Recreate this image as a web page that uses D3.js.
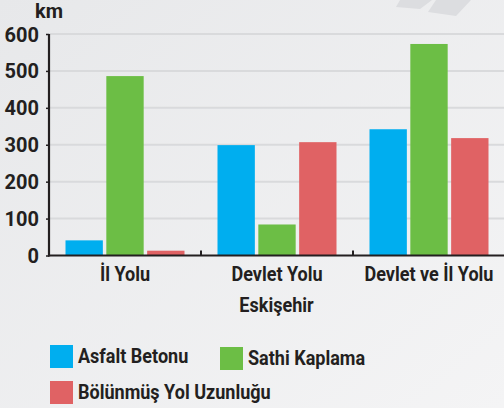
<!DOCTYPE html>
<html>
<head>
<meta charset="utf-8">
<script src="https://cdn.jsdelivr.net/npm/d3@7"></script>
<style>
  html, body { margin: 0; padding: 0; }
  body { width: 504px; height: 408px; overflow: hidden; }
  svg text { font-family: "Roboto", "Noto Sans", sans-serif; fill: #231f20; }
</style>
</head>
<body>
<svg id="chart" width="504" height="408"></svg>
<script>
// Road lengths in Eskişehir (km) by road type and surface
const categories = ["İl Yolu", "Devlet Yolu", "Devlet ve İl Yolu"];
const seriesNames = ["Asfalt Betonu", "Sathi Kaplama", "Bölünmüş Yol Uzunluğu"];
const asfaltBetonu = [41, 299, 342];
const sathiKaplama = [486, 84, 573];
const bolunmusYol = [13, 307, 318];
const yTicks = [0, 100, 200, 300, 400, 500, 600];
const colors = ["#00aeef", "#6cbe45", "#e06264"];

const series = [asfaltBetonu, sathiKaplama, bolunmusYol];

// narrow lettering for the labels
const condense = "scale(0.88,1)";

const svg = d3.select("#chart");

// background
const defs = svg.append("defs");
const grad = defs.append("linearGradient").attr("id", "bg")
  .attr("x1", "0").attr("y1", "0").attr("x2", "1").attr("y2", "1");
grad.append("stop").attr("offset", "0").attr("stop-color", "#e7e8ea");
grad.append("stop").attr("offset", "1").attr("stop-color", "#f4f4f5");
svg.append("rect").attr("width", 504).attr("height", 408).attr("fill", "url(#bg)");

// decorative stripes top right
svg.append("path").attr("d", "M400,0 L432,0 L420,9 L396,7 Z").attr("fill", "#dcdde0");
svg.append("path").attr("d", "M436,0 L471,0 L456,16 L428,12 Z").attr("fill", "#dcdde0");

const mLeft = 49, mRight = 505, mTop = 34, mBottom = 255.5;

const x = d3.scaleBand().domain(categories).range([mLeft, mRight]);
const xInner = d3.scaleBand().domain(seriesNames)
  .range([16.5, x.bandwidth() - 16.5]).paddingInner(0.085);
const y = d3.scaleLinear().domain([0, 600]).range([mBottom, mTop]);

// gridlines
svg.append("g").selectAll("line").data(yTicks.filter(d => d > 0)).join("line")
  .attr("x1", mLeft).attr("x2", 504)
  .attr("y1", d => y(d)).attr("y2", d => y(d))
  .attr("stroke", "#d9dadc").attr("stroke-width", 2);

// bars
const groups = svg.append("g").selectAll("g").data(categories).join("g")
  .attr("transform", d => `translate(${x(d)},0)`);
groups.selectAll("rect")
  .data((c, i) => seriesNames.map((s, k) => ({ s, v: series[k][i], k })))
  .join("rect")
  .attr("x", d => xInner(d.s))
  .attr("width", xInner.bandwidth())
  .attr("y", d => y(d.v))
  .attr("height", d => y(0) - y(d.v))
  .attr("fill", d => colors[d.k]);

// y axis
const yAxis = d3.axisLeft(y).tickValues(yTicks).tickSize(3).tickPadding(7);
const gy = svg.append("g").attr("transform", `translate(${mLeft},0)`).call(yAxis);
gy.select(".domain").attr("stroke", "#231f20").attr("stroke-width", 2.2)
  .attr("d", `M0,${mTop}V${mBottom + 1}`);
gy.selectAll(".tick line").attr("stroke", "#231f20").attr("stroke-width", 1.5);
gy.selectAll(".tick text").attr("font-size", 20).attr("font-weight", 700)
  .attr("fill", "#231f20").attr("dy", "0.35em");

// x axis
const xAxis = d3.axisBottom(x).tickSize(0).tickPadding(11);
const gx = svg.append("g").attr("transform", `translate(0,${mBottom})`).call(xAxis);
gx.select(".domain").attr("stroke", "#231f20").attr("stroke-width", 2.2)
  .attr("d", `M${mLeft - 1},0H504`);
gx.selectAll(".tick text").attr("font-size", 20.5).attr("font-weight", 700)
  .attr("fill", "#231f20").attr("dy", "0.71em").attr("transform", condense);
// small separators between categories
svg.append("g").selectAll("line").data(categories.slice(1)).join("line")
  .attr("x1", d => x(d)).attr("x2", d => x(d))
  .attr("y1", mBottom).attr("y2", mBottom - 5)
  .attr("stroke", "#231f20").attr("stroke-width", 2);

// unit label
svg.append("text").attr("x", 35).attr("y", 18).attr("font-size", 20)
  .attr("font-weight", 700).text("km");

// axis title
svg.append("text")
  .attr("transform", `translate(${(mLeft + 504) / 2},311.5) ${condense}`)
  .attr("text-anchor", "middle").attr("font-size", 20.5).attr("font-weight", 700)
  .text("Eskişehir");

// legend
const legendPos = [[50, 345], [220, 347], [50, 381]];
const lg = svg.append("g").selectAll("g").data(seriesNames).join("g")
  .attr("transform", (d, i) => `translate(${legendPos[i][0]},${legendPos[i][1]})`);
lg.append("rect").attr("width", 23).attr("height", 23).attr("fill", (d, i) => colors[i]);
lg.append("text").attr("transform", `translate(28,18) ${condense}`)
  .attr("font-size", 20.5).attr("font-weight", 700).text(d => d);
</script>
</body>
</html>
